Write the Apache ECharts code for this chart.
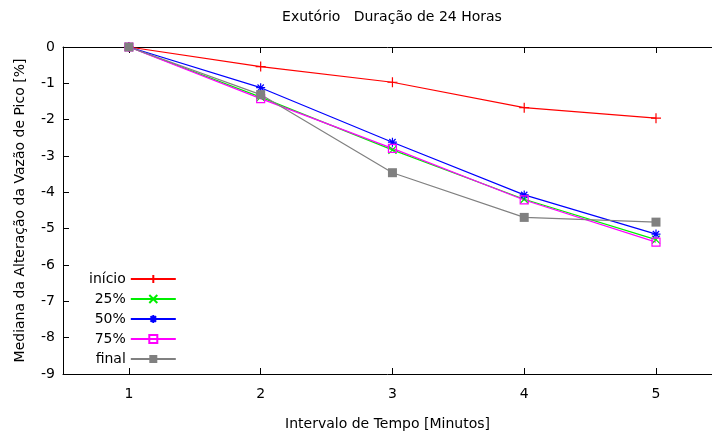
<!DOCTYPE html>
<html><head><meta charset="utf-8">
<script src="https://cdn.jsdelivr.net/npm/echarts@6/dist/echarts.min.js"></script>
<style>html,body{margin:0;padding:0;background:#fff}#c{width:712px;height:437px}</style>
</head><body><div id="c"></div>
<script>
const xValues = [1, 2, 3, 4, 5];
const seriesNames = ['início', '25%', '50%', '75%', 'final'];
const inicio = [0, -0.54, -0.97, -1.67, -1.96];
const p25 = [0, -1.38, -2.83, -4.19, -5.30];
const p50 = [0, -1.12, -2.62, -4.07, -5.15];
const p75 = [0, -1.42, -2.79, -4.21, -5.37];
const fin = [0, -1.31, -3.46, -4.69, -4.82];
const yTicks = [0, -1, -2, -3, -4, -5, -6, -7, -8, -9];

const FONT = 'DejaVu Sans';
const FS = 14;
const colors = ['#ff0000', '#00ee00', '#0000ff', '#ff00ff', '#808080'];
const symbols = [
  'path://M0,5L10,5M5,0L5,10',
  'path://M0,0L10,10M10,0L0,10',
  'path://M0,5L10,5M5,0L5,10M1.5,1.5L8.5,8.5M8.5,1.5L1.5,8.5',
  'path://M0,0L10,0L10,10L0,10Z',
  'rect'
];
const sizes = [10, 8, 9, 8, 9];
const dataSets = [inicio, p25, p50, p75, fin];

const chart = echarts.init(document.getElementById('c'), null, {renderer: 'canvas'});
const series = dataSets.map((d, i) => ({
  name: seriesNames[i],
  type: 'line',
  data: d.map((v, k) => [xValues[k], v]),
  symbol: symbols[i],
  symbolSize: sizes[i],
  symbolKeepAspect: true,
  showAllSymbol: true,
  color: colors[i],
  lineStyle: {color: colors[i], width: 1.2},
  itemStyle: i === 4 ? {color: colors[i]} : {color: 'rgba(0,0,0,0)', borderColor: colors[i], borderWidth: 1.2},
  emphasis: {disabled: true},
  animation: false
}));

chart.setOption({
  animation: false,
  textStyle: {fontFamily: FONT, color: '#000'},
  title: {
    text: 'Exutório   Duração de 24 Horas',
    left: 387, top: 5, textAlign: 'center',
    textStyle: {fontFamily: FONT, fontSize: FS, fontWeight: 'normal', color: '#000'}
  },
  legend: {
    orient: 'vertical', align: 'right',
    left: 84, top: 267,
    itemWidth: 45, itemHeight: 10, itemGap: 6,
    textStyle: {fontFamily: FONT, fontSize: FS, color: '#000'},
    data: seriesNames
  },
  grid: {left: 63, top: 47, right: 0, bottom: 63, containLabel: false},
  xAxis: [{
    type: 'value', min: 0.5, max: 5.425, position: 'bottom',
    name: 'Intervalo de Tempo [Minutos]', nameLocation: 'middle', nameGap: 43,
    nameTextStyle: {fontFamily: FONT, fontSize: FS, color: '#000'},
    axisLine: {onZero: false, lineStyle: {color: '#000', width: 1}},
    axisTick: {inside: true, length: 6, customValues: xValues, lineStyle: {color: '#000'}},
    axisLabel: {fontFamily: FONT, fontSize: FS, color: '#000', margin: 13, customValues: xValues},
    splitLine: {show: false}
  }, {
    type: 'value', min: 0.5, max: 5.425, position: 'top',
    axisLine: {onZero: false, lineStyle: {color: '#000', width: 1}},
    axisTick: {inside: true, length: 6, customValues: xValues, lineStyle: {color: '#000'}},
    axisLabel: {show: false},
    splitLine: {show: false}
  }],
  yAxis: {
    type: 'value', min: -9, max: 0, interval: 1,
    name: 'Mediana da Alteração da Vazão de Pico [%]', nameLocation: 'middle', nameGap: 36,
    nameTextStyle: {fontFamily: FONT, fontSize: FS, color: '#000'},
    axisLine: {show: true, onZero: false, lineStyle: {color: '#000', width: 1}},
    axisTick: {show: true, inside: true, length: 6, lineStyle: {color: '#000'}},
    axisLabel: {fontFamily: FONT, fontSize: FS, color: '#000', margin: 8,
      formatter: v => yTicks.includes(v) ? String(v) : ''},
    splitLine: {show: false}
  },
  series: series
});
</script></body></html>
